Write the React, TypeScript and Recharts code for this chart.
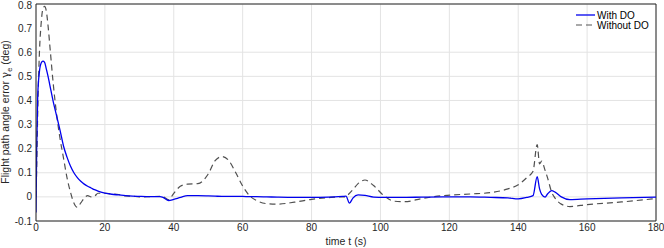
import React from 'react';
import { LineChart, Line, XAxis, YAxis, CartesianGrid, Legend, ReferenceLine } from 'recharts';

const times = [0, 0.2, 0.5, 1, 1.5, 2, 2.5, 3, 3.5, 4, 5, 6, 7, 8, 9, 10, 11, 12, 13, 14, 15, 16, 17, 18, 20, 22, 24, 26, 28, 30, 33, 36, 37, 38.5, 40, 42, 44, 47, 50, 52, 54, 56, 58, 60, 62, 64, 67, 70, 75, 80, 85, 89, 90, 91, 92, 93.5, 95.5, 98, 101, 104, 107, 112, 118, 126, 132, 137, 140, 142.5, 144.3, 145.5, 146.2, 146.8, 147.8, 148.5, 149.7, 150.7, 152.5, 155, 160, 170, 180];

const withDO = [-0.065, 0.2, 0.42, 0.52, 0.555, 0.563, 0.558, 0.53, 0.5, 0.465, 0.395, 0.335, 0.275, 0.21, 0.165, 0.128, 0.1, 0.08, 0.065, 0.053, 0.044, 0.037, 0.03, 0.024, 0.016, 0.011, 0.008, 0.005, 0.003, 0.002, 0.001, 0.001, -0.003, -0.015, -0.01, -0.002, 0.005, 0.005, 0.004, 0.003, 0.002, 0.002, 0.002, 0.002, 0.001, 0.001, 0.0, -0.001, -0.002, -0.002, -0.001, 0.002, 0.003, -0.026, -0.005, 0.008, 0.006, -0.001, -0.002, -0.002, -0.002, -0.001, 0.0, 0.0, -0.002, -0.004, -0.008, -0.002, 0.005, 0.084, 0.033, 0.01, -0.001, 0.012, 0.026, 0.02, 0.0, -0.011, -0.008, -0.004, -0.001];

const withoutDO = [0.0, 0.12, 0.35, 0.6, 0.72, 0.78, 0.79, 0.77, 0.71, 0.63, 0.47, 0.34, 0.24, 0.16, 0.08, 0.02, -0.025, -0.043, -0.025, -0.005, 0.005, 0.0, 0.003, 0.015, 0.015, 0.012, 0.01, 0.004, 0.003, 0.0, 0.001, 0.002, 0.0, -0.012, 0.015, 0.045, 0.053, 0.055, 0.095, 0.15, 0.167, 0.15, 0.1, 0.045, 0.005, -0.015, -0.028, -0.03, -0.022, -0.01, -0.003, 0.0, 0.0, 0.015, 0.03, 0.055, 0.07, 0.047, 0.005, -0.018, -0.02, -0.007, 0.005, 0.012, 0.018, 0.033, 0.05, 0.08, 0.106, 0.217, 0.137, 0.148, 0.11, 0.08, 0.02, -0.005, -0.03, -0.04, -0.032, -0.021, -0.007];

const xTicks = [0, 20, 40, 60, 80, 100, 120, 140, 160, 180];
const yTicks = [-0.1, 0, 0.1, 0.2, 0.3, 0.4, 0.5, 0.6, 0.7, 0.8];
const seriesNames = ['With DO', 'Without DO'];

const data = times.map((t, i) => ({ t, withDO: withDO[i], withoutDO: withoutDO[i] }));

const FONT = "'Liberation Sans', Arial, Helvetica, sans-serif";
const AX = '#262626';
const tickStyle = { fontSize: 10, fill: AX, fontFamily: FONT };

const YLabel = () => (
  <text
    x={9}
    y={112}
    transform="rotate(-90 9 112)"
    textAnchor="middle"
    fontSize={10.5}
    fontFamily={FONT}
    fill={AX}
  >
    Flight path angle error <tspan fontFamily="'DejaVu Serif', serif">γ</tspan>
    <tspan fontSize={7.5} dy={3}>e</tspan>
    <tspan dy={-3}> (deg)</tspan>
  </text>
);

const XLabel = () => (
  <text x={346} y={245} textAnchor="middle" fontSize={10.5} fontFamily={FONT} fill={AX}>
    time t (s)
  </text>
);

const LegendBox = () => (
  <svg width={90} height={26} style={{ display: 'block' }}>
    <line x1={2} y1={6} x2={21} y2={6} stroke="#0000ee" strokeWidth={1.3} />
    <text x={23} y={9.5} fontSize={10} fontFamily={FONT} fill="#000">{seriesNames[0]}</text>
    <line x1={2} y1={16} x2={21} y2={16} stroke="#555" strokeWidth={1.2} strokeDasharray="6 4" />
    <text x={23} y={19.5} fontSize={10} fontFamily={FONT} fill="#000">{seriesNames[1]}</text>
  </svg>
);

export default function App() {
  return (
    <div style={{ position: 'absolute', left: 0, top: 0 }}>
      <LineChart width={664} height={248} data={data} margin={{ top: 4, right: 8, bottom: 0, left: 0 }}>
        <CartesianGrid stroke="#e3e3e3" strokeWidth={1} />
        <XAxis
          dataKey="t"
          type="number"
          domain={[0, 180]}
          ticks={xTicks}
          allowDataOverflow
          height={27}
          tickLine={false}
          tickSize={2}
          tickMargin={1}
          axisLine={{ stroke: AX, strokeWidth: 1 }}
          tick={tickStyle}
          label={<XLabel />}
        />
        <YAxis
          type="number"
          domain={[-0.1, 0.8]}
          ticks={yTicks}
          allowDataOverflow
          width={36}
          tickLine={false}
          tickSize={2}
          tickMargin={2}
          axisLine={{ stroke: AX, strokeWidth: 1 }}
          tick={tickStyle}
          label={<YLabel />}
        />
        <ReferenceLine x={180} stroke={AX} strokeWidth={1} ifOverflow="visible" />
        <ReferenceLine y={0.8} stroke={AX} strokeWidth={1} ifOverflow="visible" />
        <Legend
          layout="horizontal"
          verticalAlign="middle"
          align="center"
          content={<LegendBox />}
          wrapperStyle={{ position: 'absolute', left: 574, top: 9, width: 90, height: 26 }}
        />
        <Line
          type="monotone"
          dataKey="withoutDO"
          name={seriesNames[1]}
          stroke="#505050"
          strokeWidth={1.2}
          strokeDasharray="6 4"
          dot={false}
          activeDot={false}
          isAnimationActive={false}
        />
        <Line
          type="monotone"
          dataKey="withDO"
          name={seriesNames[0]}
          stroke="#0000ee"
          strokeWidth={1.3}
          dot={false}
          activeDot={false}
          isAnimationActive={false}
        />
      </LineChart>
    </div>
  );
}
